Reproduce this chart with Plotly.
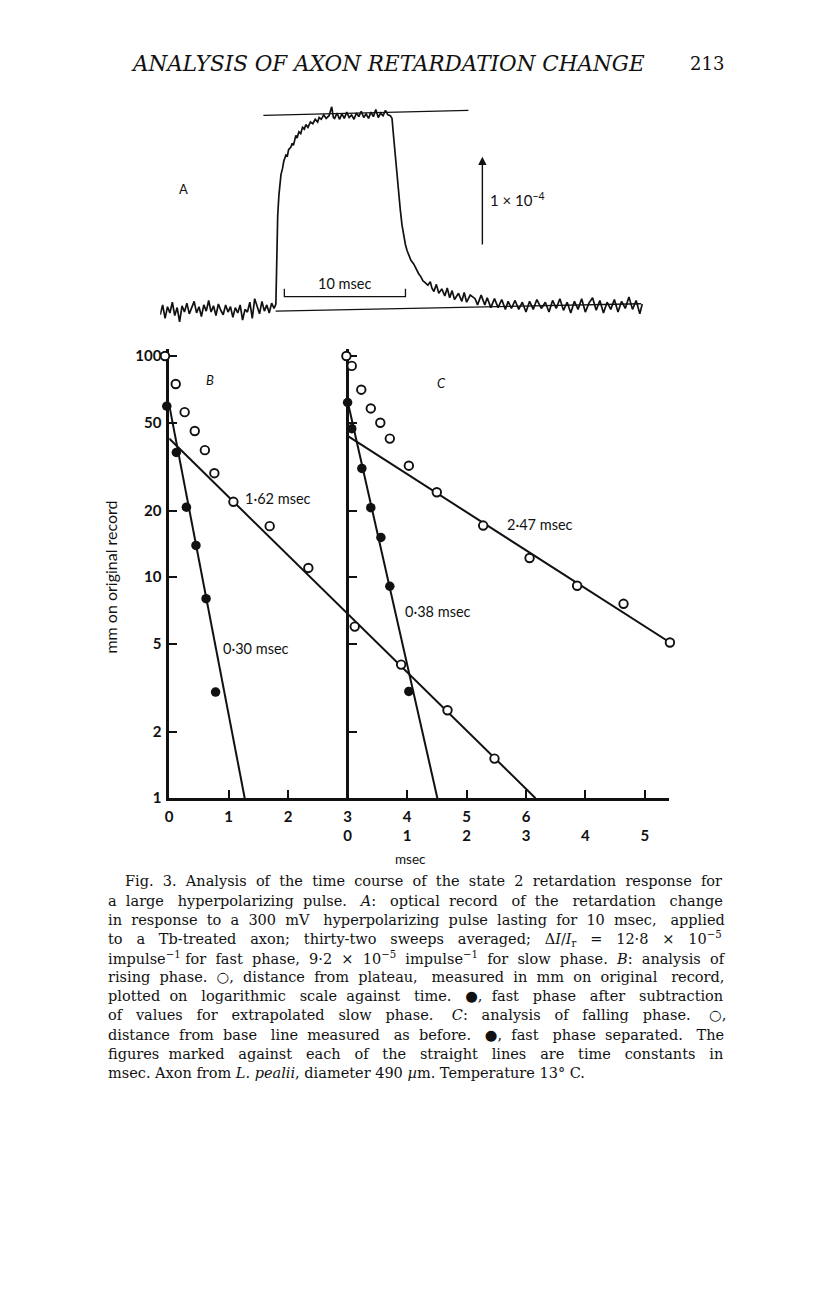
import plotly.graph_objects as go

W, H = 816, 1296


def px(x):
    return x / W


def py(y):
    return 1 - y / H


# ---- panel A: optical record (time in msec, signal in units of 1e-4) ----
trace_t = [0.0, 0.2, 0.4, 0.6, 0.8, 1.0, 1.2, 1.4, 1.6, 1.8, 2.0, 2.2, 2.4, 2.6, 2.8, 3.0,
           3.2, 3.4, 3.6, 3.8, 4.0, 4.2, 4.4, 4.6, 4.8, 5.0, 5.2, 5.4, 5.6, 5.8, 6.0, 6.2,
           6.4, 6.6, 6.8, 7.0, 7.2, 7.4, 7.6, 7.8, 8.0, 8.2, 8.4, 8.6, 8.8, 9.0, 9.2, 9.4,
           9.55, 9.62, 9.70, 9.80, 9.90, 9.97, 10.1, 10.2, 10.38, 10.5, 10.6, 10.79, 10.9,
           11.0, 11.2, 11.3, 11.45, 11.6, 11.75, 11.9, 12.02, 12.2, 12.4, 12.6, 12.8, 13.0,
           13.12, 13.3, 13.5, 13.7, 13.94, 14.16, 14.3, 14.4, 14.6, 14.8, 15.0, 15.2, 15.4,
           15.6, 15.8, 16.0, 16.2, 16.4, 16.6, 16.8, 17.0, 17.2, 17.4, 17.6, 17.8, 18.0,
           18.2, 18.4, 18.6, 18.8, 19.0, 19.14, 19.28, 19.42, 19.55, 19.69, 19.82, 19.96,
           20.1, 20.24, 20.38, 20.52, 20.7, 20.93, 21.1, 21.34, 21.5, 21.7, 21.88, 22.1,
           22.3, 22.43, 22.6, 22.8, 23.0, 23.25, 23.5, 23.7, 23.9, 24.1, 24.3, 24.63, 24.9,
           25.1, 25.3, 25.6, 26.0, 26.2, 26.5, 26.8, 27.0, 27.3, 27.6, 27.9, 28.2, 28.5,
           28.73, 29.0, 29.3, 29.6, 29.9, 30.2, 30.5, 30.8, 31.1, 31.47, 31.8, 32.1, 32.4,
           32.7, 33.0, 33.3, 33.6, 33.9, 34.2, 34.5, 34.8, 35.1, 35.4, 35.7, 36.0, 36.3,
           36.6, 36.9, 37.2, 37.5, 37.8, 38.1, 38.4, 38.7, 39.0, 39.3, 39.6, 39.8]
trace_v = [-0.06, 0.05, -0.10, 0.03, -0.04, 0.08, -0.07, 0.02, -0.14, 0.04, -0.03, 0.07,
           -0.05, 0.01, 0.09, -0.04, 0.03, -0.08, 0.05, -0.02, 0.10, -0.03, 0.04, -0.07,
           0.06, -0.01, -0.06, 0.05, -0.03, 0.03, -0.09, 0.02, -0.04, 0.05, -0.12, 0.00,
           -0.03, 0.08, -0.10, 0.12, 0.02, -0.05, 0.09, -0.02, 0.05, -0.04, 0.07, 0.01,
           0.06, 0.60, 1.05, 1.28, 1.42, 1.51, 1.58, 1.66, 1.73, 1.72, 1.79, 1.82, 1.86,
           1.84, 1.95, 1.92, 1.99, 1.97, 2.04, 2.02, 2.07, 2.04, 2.10, 2.08, 2.13, 2.10,
           2.15, 2.13, 2.18, 2.14, 2.17, 2.27, 2.15, 2.14, 2.20, 2.13, 2.19, 2.14, 2.21,
           2.15, 2.18, 2.13, 2.20, 2.16, 2.22, 2.15, 2.19, 2.14, 2.21, 2.16, 2.24, 2.15,
           2.20, 2.17, 2.23, 2.18, 2.17, 2.14, 1.92, 1.70, 1.50, 1.32, 1.12, 0.95,
           0.83, 0.73, 0.66, 0.62, 0.55, 0.51, 0.46, 0.40, 0.37, 0.32, 0.30, 0.27,
           0.31, 0.24, 0.20, 0.28, 0.18, 0.23, 0.15, 0.24, 0.13, 0.21, 0.11, 0.18, 0.09,
           0.19, 0.08, 0.16, 0.12, 0.05, 0.16, 0.05, 0.13, 0.02, 0.12, 0.02, 0.11, 0.00,
           0.09, 0.01, 0.10, 0.00, 0.08, -0.03, 0.09, 0.00, 0.11, 0.01, 0.08, -0.03, 0.10,
           0.01, 0.12, -0.01, 0.08, -0.04, 0.09, 0.00, 0.12, -0.03, 0.07, 0.13, -0.01, 0.10,
           -0.04, 0.08, 0.00, 0.11, -0.03, 0.09, 0.01, 0.14, 0.00, 0.10, -0.05, 0.06]
plateau_t = [8.52, 25.45]
plateau_v = [2.174, 2.23]
baseline_t = [9.53, 39.7]
baseline_v = [-0.019, 0.063]
bar_t = [10.25, 10.25, 20.25, 20.25]
bar_v = [0.23, 0.144, 0.144, 0.23]

# ---- panel B: rising phase (msec, mm on original record) ----
b_open_t = [-0.07, 0.11, 0.26, 0.43, 0.60, 0.76, 1.08, 1.69, 2.34, 3.12, 3.90, 4.68, 5.47]
b_open_v = [100, 74.7, 55.7, 45.8, 37.5, 29.5, 21.9, 17.0, 11.0, 5.97, 4.02, 2.50, 1.51]
b_fill_t = [-0.04, 0.12, 0.29, 0.45, 0.62, 0.78]
b_fill_v = [59.3, 36.6, 20.7, 13.9, 7.99, 3.02]
b_slow_t = [0, 6.16]
b_slow_v = [42.3, 1]
b_fast_t = [0, 1.27]
b_fast_v = [60, 1]

# ---- panel C: falling phase ----
c_open_t = [-0.02, 0.07, 0.23, 0.39, 0.55, 0.71, 1.03, 1.50, 2.28, 3.06, 3.86, 4.64, 5.42]
c_open_v = [100, 90.2, 70.4, 57.9, 49.9, 42.3, 31.9, 24.2, 17.1, 12.2, 9.14, 7.57, 5.06]
c_fill_t = [0.0, 0.07, 0.24, 0.39, 0.56, 0.71, 1.03]
c_fill_v = [61.6, 46.9, 31.0, 20.6, 15.1, 9.09, 3.04]
c_slow_t = [0, 5.42]
c_slow_v = [43.5, 5.06]
c_fast_t = [0, 1.51]
c_fast_v = [62.4, 1]

y_ticks = [1, 2, 5, 10, 20, 50, 100]
b_ticks = [0, 1, 2, 3, 4, 5, 6, 7, 8]
b_tick_text = ["0", "1", "2", "3", "4", "5", "6", "", ""]
c_ticks = [0, 1, 2, 3, 4, 5]

caption = [
    "Fig. 3. Analysis of the time course of the state 2 retardation response for",
    "a large hyperpolarizing pulse. <i>A</i>: optical record of the retardation change",
    "in response to a 300 mV hyperpolarizing pulse lasting for 10 msec, applied",
    "to a Tb-treated axon; thirty-two sweeps averaged; Δ<i>I</i>/<i>I</i><sub>r</sub> = 12·8 × 10<sup>−5</sup>",
    "impulse<sup>−1</sup> for fast phase, 9·2 × 10<sup>−5</sup> impulse<sup>−1</sup> for slow phase. <i>B</i>: analysis of",
    "rising phase. ○, distance from plateau, measured in mm on original record,",
    "plotted on logarithmic scale against time. ●, fast phase after subtraction",
    "of values for extrapolated slow phase. <i>C</i>: analysis of falling phase. ○,",
    "distance from base line measured as before. ●, fast phase separated. The",
    "figures marked against each of the straight lines are time constants in",
    "msec. Axon from <i>L. pealii</i>, diameter 490 <i>µ</i>m. Temperature 13° C.",
]
# extra word spaces per caption line, to imitate the justified setting
caption_pad = [13, 16, 14, 22, 12, 13, 17, 24, 16, 21, 0]

INK = "#111111"
SANS = "Lato, Open Sans, sans-serif"
SERIF = "DejaVu Serif, serif"


def justify(text, extra):
    words = text.split(" ")
    gaps = len(words) - 1
    if extra <= 0 or gaps <= 0:
        return text
    out = words[0]
    for i, w in enumerate(words[1:]):
        n = extra * (i + 1) // gaps - extra * i // gaps
        out += " " + "\u00a0" * n + w
    return out


fig = go.Figure()

# panel A
line_a = dict(color=INK, width=1.3)
fig.add_trace(go.Scatter(x=plateau_t, y=plateau_v, mode="lines", line=line_a, xaxis="x3", yaxis="y3"))
fig.add_trace(go.Scatter(x=baseline_t, y=baseline_v, mode="lines", line=line_a, xaxis="x3", yaxis="y3"))
fig.add_trace(go.Scatter(x=trace_t, y=trace_v, mode="lines", line=dict(color=INK, width=1.7),
                         xaxis="x3", yaxis="y3"))
fig.add_trace(go.Scatter(x=bar_t, y=bar_v, mode="lines", line=line_a, xaxis="x3", yaxis="y3"))

# panels B and C: fitted lines first, then points
fit = dict(color=INK, width=2)
for xs, ys, xa, ya in [(b_slow_t, b_slow_v, "x", "y"), (b_fast_t, b_fast_v, "x", "y"),
                       (c_slow_t, c_slow_v, "x2", "y2"), (c_fast_t, c_fast_v, "x2", "y2")]:
    fig.add_trace(go.Scatter(x=xs, y=ys, mode="lines", line=fit, xaxis=xa, yaxis=ya))

# points go on a slightly wider, hidden copy of the same scale so edge points are not clipped
open_mk = dict(symbol="circle", size=8.5, color="white", line=dict(color=INK, width=1.9))
fill_mk = dict(symbol="circle", size=9.5, color=INK, line=dict(color=INK, width=0))
for xs, ys, mk, xa in [(b_open_t, b_open_v, open_mk, "x4"),
                       (b_fill_t, b_fill_v, fill_mk, "x4"),
                       (c_open_t, c_open_v, open_mk, "x5"),
                       (c_fill_t, c_fill_v, fill_mk, "x5")]:
    fig.add_trace(go.Scatter(x=xs, y=ys, mode="markers", marker=mk, xaxis=xa, yaxis="y4"))

X0, X1 = 166, 668            # pixel span of the time axis
SPAN = 8.4                   # msec shown along it (B time)
UNIT = (X1 - X0) / SPAN
PAD_L, PAD_R = 0.15, 0.3     # extra msec on the hidden marker axes

y_dom = [py(802), py(349.3)]
axis_common = dict(showgrid=False, zeroline=False, linecolor=INK, tickcolor=INK)
tick_font = dict(family=SANS, size=15, color=INK, weight="bold")

fig.update_layout(
    width=W, height=H,
    margin=dict(l=0, r=0, t=0, b=0),
    paper_bgcolor="white", plot_bgcolor="rgba(0,0,0,0)",
    showlegend=False,
    font=dict(family=SANS, color=INK),
    xaxis=dict(domain=[px(X0), px(X1)], range=[0, SPAN], anchor="y",
               showline=True, linewidth=2.5, ticks="inside", ticklen=8, tickwidth=2,
               tickvals=b_ticks, ticktext=b_tick_text, ticklabelstandoff=3,
               tickfont=tick_font, **axis_common),
    xaxis2=dict(overlaying="x", range=[-3, SPAN - 3], anchor="y", side="bottom",
                showline=False, ticks="", tickvals=c_ticks, ticklabelstandoff=27,
                tickfont=tick_font, **axis_common),
    yaxis=dict(domain=y_dom, type="log", range=[0, 2.03], anchor="x",
               showline=True, linewidth=2.5, ticks="inside", ticklen=8, tickwidth=2,
               tickvals=y_ticks, ticktext=[str(v) for v in y_ticks], ticklabelstandoff=2,
               tickfont=tick_font, **axis_common),
    yaxis2=dict(overlaying="y", type="log", range=[0, 2.03], anchor="free",
                position=px(345), side="left", showline=True, linewidth=2.5,
                ticks="inside", ticklen=8, tickwidth=2, tickvals=y_ticks[1:],
                showticklabels=False, **axis_common),
    xaxis4=dict(domain=[px(X0 - PAD_L * UNIT), px(X1 + PAD_R * UNIT)],
                range=[-PAD_L, SPAN + PAD_R], anchor="y4", visible=False),
    xaxis5=dict(overlaying="x4", range=[-PAD_L - 3, SPAN + PAD_R - 3], anchor="y4", visible=False),
    yaxis4=dict(domain=y_dom, type="log", range=[0, 2.03], anchor="x4", visible=False),
    xaxis3=dict(domain=[px(157), px(643.8)], range=[0, 40], anchor="y3", visible=False),
    yaxis3=dict(domain=[py(330), py(90)], range=[-0.2333, 2.4333], anchor="x3", visible=False),
)

ann = []


def label(x, y, text, size=14, family=SANS, xanchor="left", **kw):
    ann.append(dict(x=px(x), y=py(y), xref="paper", yref="paper", text=text,
                    showarrow=False, xanchor=xanchor, yanchor="middle",
                    font=dict(family=family, size=size, color=INK), **kw))


# header
label(386, 61, "<i>ANALYSIS OF AXON RETARDATION CHANGE</i>", size=21.5, family=SERIF, xanchor="center")
label(706, 61, "213", size=18, family=SERIF, xanchor="center")

# panel A labels
label(180, 188, "A", size=13, xanchor="center")
label(342, 283, "10 msec", size=14.5, xanchor="center")
label(486, 198, "1 × 10<sup>−4</sup>", size=15)
ann.append(dict(x=26.6, y=1.711, ax=26.6, ay=0.711, xref="x3", yref="y3", axref="x3", ayref="y3",
                text="", showarrow=True, arrowhead=2, arrowsize=1.2, arrowwidth=1.4, arrowcolor=INK))

# panels B / C labels
label(207, 380, "<i>B</i>", size=13, xanchor="center")
label(440, 383, "<i>C</i>", size=13, xanchor="center")
label(240, 500, "1·62 msec", size=14.5)
label(218, 651, "0·30 msec", size=14.5)
label(503, 526, "2·47 msec", size=14.5)
label(401, 614, "0·38 msec", size=14.5)
label(408, 863, "msec", size=13.5, xanchor="center")
label(107, 579, "mm on original record", size=16, xanchor="center", textangle=-90)

# caption
cap_y0, cap_dy = 886, 19.3
for i, line in enumerate(caption):
    label(120 if i == 0 else 102, cap_y0 + i * cap_dy, justify(line, caption_pad[i]),
          size=14.5, family=SERIF)

fig.update_layout(annotations=ann)
fig.write_html("out.html", config={"displayModeBar": False},
               post_script="document.body.style.margin = '0';")
